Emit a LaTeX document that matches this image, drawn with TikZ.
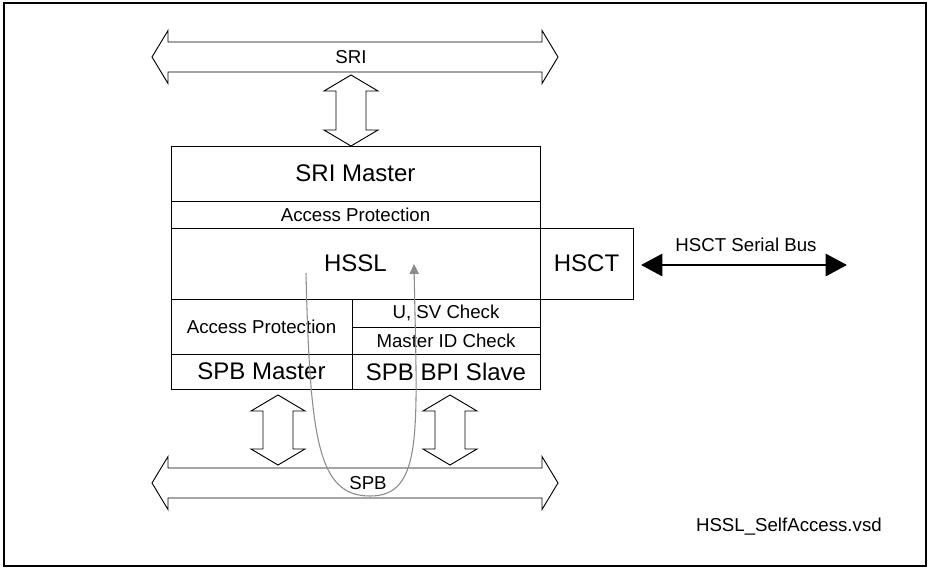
\documentclass[tikz,border=0pt]{standalone}
\usepackage{fontspec}
\setmainfont{Liberation Sans}
\usepackage{tikz}
\usetikzlibrary{arrows.meta,positioning,calc}
\definecolor{trace}{HTML}{8C8C8C}

% hollow bus arrows, coordinates in px
\newcommand\busarrow[3]{%
  \draw[bus] (#1,#3) -- ++(16,-26.5) -- ++(0,11.5) -- (#2-16,#3-15) -- ++(0,-11.5) -- (#2,#3)
    -- ++(-16,26.5) -- ++(0,-11.5) -- (#1+16,#3+15) -- ++(0,11.5) -- cycle;}
\newcommand\portarrow[2]{%
  \draw[bus] #1 -- ++(27,16) -- ++(-12,0) -- ($#2+(15,-16)$) -- ++(12,0) -- #2
    -- ++(-27,-16) -- ++(12,0) -- ($#1+(-15,16)$) -- ++(-12,0) -- cycle;}

\begin{document}
\begin{tikzpicture}[x=0.75pt,y=-0.75pt,
    bus/.style={draw=black,line width=0.7pt,fill=white},
    blk/.style={draw=black,line width=0.7pt,inner sep=0pt,outer sep=0pt},
    cell/.style 2 args={minimum width=#1*0.75pt,minimum height=#2*0.75pt},
    bigtxt/.style={font=\fontsize{18}{20}\selectfont},
    smalltxt/.style={font=\fontsize{14}{16}\selectfont},
    lbl/.style={font=\fontsize{14}{16}\selectfont,inner sep=0pt}]
  \useasboundingbox (0,0) rectangle (929,568);
  \draw[line width=0.9pt] (4,3) rectangle (926,566);

  % buses
  \busarrow{152}{558}{57}
  \node[lbl] (sri) at (351,57) {SRI};
  \busarrow{152}{558}{483}

  % HSSL module
  \node[blk,bigtxt,cell={369}{55},anchor=north west] (srim) at (171,146) {SRI Master};
  \node[blk,smalltxt,cell={369}{27},below=0pt of srim] (apsri) {Access Protection};
  \node[blk,bigtxt,cell={369}{71},below=0pt of apsri] (hssl) {HSSL};
  \node[blk,bigtxt,cell={93}{71},right=0pt of hssl] (hsct) {HSCT};
  \node[blk,smalltxt,cell={181}{55},anchor=north west] (apspb) at (hssl.south west) {Access Protection};
  \node[blk,smalltxt,cell={188}{28},anchor=north west] (usv) at (apspb.north east) {U, SV Check};
  \node[blk,smalltxt,cell={188}{27},below=0pt of usv] (mid) {Master ID Check};
  \node[blk,bigtxt,cell={181}{35},below=0pt of apspb] (spbm) {SPB Master};
  \node[blk,bigtxt,cell={188}{35},below=0pt of mid] (bpi) {SPB BPI Slave};

  % bus ports
  \coordinate (sriport) at (351,75);
  \portarrow{(sriport)}{(sriport |- srim.north)}
  \coordinate (mport) at (278,395);
  \coordinate (mbus) at (278,465);
  \portarrow{(mport)}{(mbus)}
  \coordinate (sport) at (450,395);
  \coordinate (sbus) at (450,465);
  \portarrow{(sport)}{(sbus)}

  \node[lbl,fill=white,inner sep=1pt] (spb) at (368,483) {SPB};

  % self access path
  \coordinate (loopin) at (306,273);
  \coordinate (loopout) at (414,264);
  \draw[trace,line width=0.8pt,-{Triangle[length=7.5pt,width=7pt]}]
    (loopin) .. controls (310,440) and (318,496) .. (370,496)
    .. controls (424,496) and (417,430) .. (loopout);

  % serial bus
  \coordinate (busend) at (847,265);
  \draw[line width=2.2pt,{Triangle[length=16pt,width=16.5pt]}-{Triangle[length=16pt,width=16.5pt]}]
    ($(hsct.east)+(8,1.5)$) -- (busend);
  \node[lbl] (serial) at (746,245) {HSCT Serial Bus};

  \node[lbl,anchor=east] (fname) at (882,527) {HSSL\_SelfAccess.vsd};
\end{tikzpicture}
\end{document}
